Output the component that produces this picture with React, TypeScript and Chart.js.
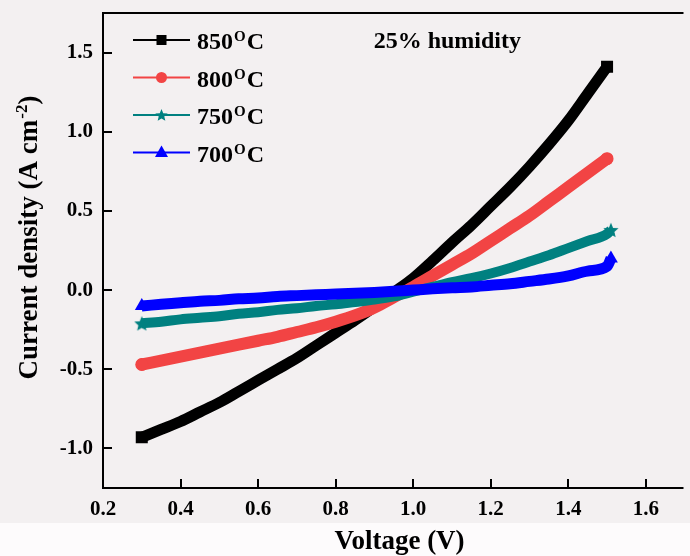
import React, { useEffect, useRef } from 'react';
import { Chart, registerables } from 'chart.js';

Chart.register(...registerables);

// ---- data ----
const voltage = [0.30, 0.35, 0.40, 0.45, 0.50, 0.55, 0.60, 0.65, 0.70, 0.75, 0.80, 0.85, 0.90, 0.95, 1.00, 1.05, 1.10, 1.15, 1.20, 1.25, 1.30, 1.35, 1.40, 1.45, 1.50];
const voltageLong = [0.30, 0.35, 0.40, 0.45, 0.50, 0.55, 0.60, 0.65, 0.70, 0.75, 0.80, 0.85, 0.90, 0.95, 1.00, 1.05, 1.10, 1.15, 1.20, 1.25, 1.30, 1.35, 1.40, 1.45, 1.50, 1.51];

const j850 = [-0.93, -0.88, -0.83, -0.77, -0.71, -0.64, -0.57, -0.50, -0.43, -0.35, -0.27, -0.19, -0.105, -0.015, 0.075, 0.185, 0.30, 0.41, 0.53, 0.65, 0.78, 0.92, 1.07, 1.24, 1.41];
const j800 = [-0.47, -0.445, -0.42, -0.395, -0.37, -0.345, -0.32, -0.295, -0.265, -0.235, -0.20, -0.16, -0.11, -0.045, 0.02, 0.09, 0.16, 0.23, 0.31, 0.39, 0.47, 0.56, 0.65, 0.74, 0.83];
const j750 = [-0.21, -0.20, -0.185, -0.175, -0.165, -0.15, -0.14, -0.125, -0.115, -0.10, -0.09, -0.075, -0.06, -0.04, -0.01, 0.02, 0.05, 0.075, 0.105, 0.14, 0.18, 0.22, 0.265, 0.31, 0.355, 0.38];
const j700 = [-0.10, -0.09, -0.08, -0.07, -0.065, -0.055, -0.05, -0.04, -0.035, -0.03, -0.025, -0.02, -0.015, -0.008, 0.0, 0.008, 0.015, 0.02, 0.03, 0.04, 0.055, 0.07, 0.09, 0.12, 0.15, 0.20];

const seriesNames = ['850', '800', '750', '700'];
const seriesColors = ['#000000', '#f24444', '#008080', '#0000ff'];
const xTicks = [0.2, 0.4, 0.6, 0.8, 1.0, 1.2, 1.4, 1.6];
const yTicks = [-1.0, -0.5, 0.0, 0.5, 1.0, 1.5];
const xTitle = 'Voltage (V)';
const yTitleMain = 'Current density (A cm';
const yTitleSup = '-2';
const noteText = '25% humidity';

const FONT = "'Liberation Serif', 'Times New Roman', serif";
const BG = '#f3f0f1';
const BG_BOTTOM = '#fdfbfc';

function makeStar(size: number, color: string) {
  const c = document.createElement('canvas');
  c.width = size;
  c.height = size;
  const ctx = c.getContext('2d')!;
  drawStar(ctx, size / 2, size / 2 + size * 0.05, size / 2, color);
  return c;
}

function drawStar(ctx: CanvasRenderingContext2D, cx: number, cy: number, R: number, color: string) {
  const r = R * 0.45;
  ctx.beginPath();
  for (let i = 0; i < 10; i++) {
    const a = -Math.PI / 2 + (i * Math.PI) / 5;
    const rad = i % 2 ? r : R;
    ctx.lineTo(cx + rad * Math.cos(a), cy + rad * Math.sin(a));
  }
  ctx.closePath();
  ctx.fillStyle = color;
  ctx.fill();
}

function toPts(xs: number[], ys: number[]) {
  return ys.map((y, i) => ({ x: xs[i], y }));
}

// marker only on the first and last sample, the band itself is the line
function endRadius(n: number, r: number) {
  return (ctx: any) => (ctx.dataIndex === 0 || ctx.dataIndex === n - 1 ? r : 0);
}

export default function App() {
  const ref = useRef<HTMLCanvasElement>(null);

  useEffect(() => {
    const canvas = ref.current!;
    const star = makeStar(16, seriesColors[2]);

    const decor = {
      id: 'decor',
      beforeDraw(chart: any) {
        const { ctx, width, height, chartArea } = chart;
        ctx.save();
        ctx.fillStyle = BG;
        ctx.fillRect(0, 0, width, height);
        ctx.fillStyle = BG_BOTTOM;
        ctx.fillRect(0, chartArea.bottom + 35, width, height);
        ctx.restore();
      },
      afterDraw(chart: any) {
        const { ctx, chartArea } = chart;
        const xs = chart.scales.x;
        const ys = chart.scales.y;
        const L = chartArea.left, T = chartArea.top, B = chartArea.bottom, R = chartArea.right;
        ctx.save();
        ctx.strokeStyle = '#000';
        ctx.lineWidth = 2;
        ctx.beginPath();
        ctx.moveTo(L, T);
        ctx.lineTo(R + 2, T);
        ctx.moveTo(L, T - 1);
        ctx.lineTo(L, B + 1);
        ctx.moveTo(L - 1, B);
        ctx.lineTo(R + 2, B);
        // inner ticks
        xTicks.forEach((v) => {
          const px = Math.round(xs.getPixelForValue(v));
          ctx.moveTo(px, B);
          ctx.lineTo(px, B - 9);
        });
        yTicks.forEach((v) => {
          const py = Math.round(ys.getPixelForValue(v));
          ctx.moveTo(L, py);
          ctx.lineTo(L + 9, py);
        });
        ctx.stroke();

        ctx.fillStyle = '#000';
        // x title
        ctx.font = `bold 27px ${FONT}`;
        ctx.textAlign = 'center';
        ctx.textBaseline = 'alphabetic';
        ctx.fillText(xTitle, L + 296.5, B + 61);

        // y title (rotated, with superscript)
        ctx.save();
        ctx.translate(28, T + 225);
        ctx.rotate(-Math.PI / 2);
        ctx.font = `bold 27px ${FONT}`;
        const wMain = ctx.measureText(yTitleMain).width;
        ctx.font = `bold 17px ${FONT}`;
        const wSup = ctx.measureText(yTitleSup).width;
        ctx.font = `bold 27px ${FONT}`;
        const wClose = ctx.measureText(')').width;
        const total = wMain + wSup + wClose;
        const x0 = -total / 2;
        ctx.textAlign = 'left';
        ctx.textBaseline = 'alphabetic';
        const base = 9;
        ctx.fillText(yTitleMain, x0, base);
        ctx.font = `bold 17px ${FONT}`;
        ctx.fillText(yTitleSup, x0 + wMain + 1, base - 10);
        ctx.font = `bold 27px ${FONT}`;
        ctx.fillText(')', x0 + wMain + wSup + 1, base);
        ctx.restore();

        // annotation
        ctx.font = `bold 24px ${FONT}`;
        ctx.textAlign = 'left';
        ctx.textBaseline = 'alphabetic';
        ctx.fillText(noteText, xs.getPixelForValue(0.898), T + 35);

        // legend
        const rowGap = 37.5;
        seriesNames.forEach((name, i) => {
          const y = T + 27 + i * rowGap;
          const color = seriesColors[i];
          const lx0 = L + 30, lx1 = L + 87, mx = L + 58.5;
          ctx.strokeStyle = color;
          ctx.lineWidth = 2;
          ctx.beginPath();
          ctx.moveTo(lx0, y);
          ctx.lineTo(lx1, y);
          ctx.stroke();
          ctx.fillStyle = color;
          if (i === 0) {
            ctx.fillRect(mx - 5, y - 5, 10, 10);
          } else if (i === 1) {
            ctx.beginPath();
            ctx.arc(mx, y, 5.5, 0, Math.PI * 2);
            ctx.fill();
          } else if (i === 2) {
            drawStar(ctx, mx, y + 0.5, 6.5, color);
          } else {
            ctx.beginPath();
            ctx.moveTo(mx, y - 7);
            ctx.lineTo(mx + 6.5, y + 4.5);
            ctx.lineTo(mx - 6.5, y + 4.5);
            ctx.closePath();
            ctx.fill();
          }
          ctx.fillStyle = '#000';
          ctx.textAlign = 'left';
          ctx.textBaseline = 'alphabetic';
          const tx = L + 94;
          const tb = y + 9;
          ctx.font = `bold 24px ${FONT}`;
          ctx.fillText(name, tx, tb);
          const w1 = ctx.measureText(name).width;
          ctx.font = `bold 15px ${FONT}`;
          ctx.fillText('O', tx + w1 + 1, tb - 8);
          const w2 = ctx.measureText('O').width;
          ctx.font = `bold 24px ${FONT}`;
          ctx.fillText('C', tx + w1 + w2 + 2, tb);
        });
        ctx.restore();
      },
    };

    const tickFont = { family: FONT, size: 21, weight: 'bold' as const };

    const chart = new Chart(canvas, {
      type: 'line',
      data: {
        datasets: [
          {
            label: '700',
            data: toPts(voltageLong, j700),
            borderColor: seriesColors[3],
            backgroundColor: seriesColors[3],
            borderWidth: 11,
            pointStyle: 'triangle',
            pointRadius: endRadius(voltageLong.length, 8),
            pointBorderWidth: 0,
            pointBackgroundColor: seriesColors[3],
            cubicInterpolationMode: 'monotone',
          },
          {
            label: '750',
            data: toPts(voltageLong, j750),
            borderColor: seriesColors[2],
            backgroundColor: seriesColors[2],
            borderWidth: 10,
            pointStyle: star as any,
            pointRadius: endRadius(voltageLong.length, 8),
            pointBorderWidth: 0,
            cubicInterpolationMode: 'monotone',
          },
          {
            label: '800',
            data: toPts(voltage, j800),
            borderColor: seriesColors[1],
            backgroundColor: seriesColors[1],
            borderWidth: 12,
            borderCapStyle: 'round',
            borderJoinStyle: 'round',
            pointStyle: 'circle',
            pointRadius: endRadius(voltage.length, 6.5),
            pointBorderWidth: 0,
            pointBackgroundColor: seriesColors[1],
            cubicInterpolationMode: 'monotone',
          },
          {
            label: '850',
            data: toPts(voltage, j850),
            borderColor: seriesColors[0],
            backgroundColor: seriesColors[0],
            borderWidth: 11,
            pointStyle: 'rect',
            pointRadius: endRadius(voltage.length, 8.5),
            pointBorderWidth: 0,
            pointBackgroundColor: seriesColors[0],
            cubicInterpolationMode: 'monotone',
          },
        ],
      },
      options: {
        animation: false,
        responsive: true,
        maintainAspectRatio: false,
        layout: { padding: { top: 13, left: 0, right: 0, bottom: 0 } },
        plugins: { legend: { display: false }, tooltip: { enabled: false } },
        scales: {
          x: {
            type: 'linear',
            min: 0.2,
            max: 1.692,
            afterBuildTicks: (s: any) => {
              s.ticks = xTicks.map((v) => ({ value: v }));
            },
            afterFit: (s: any) => {
              s.height = 68;
              s.paddingLeft = 0;
              s.paddingRight = 0;
            },
            grid: { display: false, drawTicks: false },
            border: { display: false },
            ticks: {
              font: tickFont,
              color: '#000',
              padding: 9,
              maxRotation: 0,
              autoSkip: false,
              callback: (v: any) => Number(v).toFixed(1),
            },
          },
          y: {
            type: 'linear',
            min: -1.25,
            max: 1.75,
            afterBuildTicks: (s: any) => {
              s.ticks = yTicks.map((v) => ({ value: v }));
            },
            afterFit: (s: any) => {
              s.width = 103;
              s.paddingTop = 0;
              s.paddingBottom = 0;
            },
            grid: { display: false, drawTicks: false },
            border: { display: false },
            ticks: {
              font: tickFont,
              color: '#000',
              padding: 10,
              autoSkip: false,
              callback: (v: any) => Number(v).toFixed(1),
            },
          },
        },
      },
      plugins: [decor],
    });

    return () => chart.destroy();
  }, []);

  return (
    <div style={{ position: 'fixed', left: 0, top: 0, width: 690, height: 556 }}>
      <canvas ref={ref} />
    </div>
  );
}
